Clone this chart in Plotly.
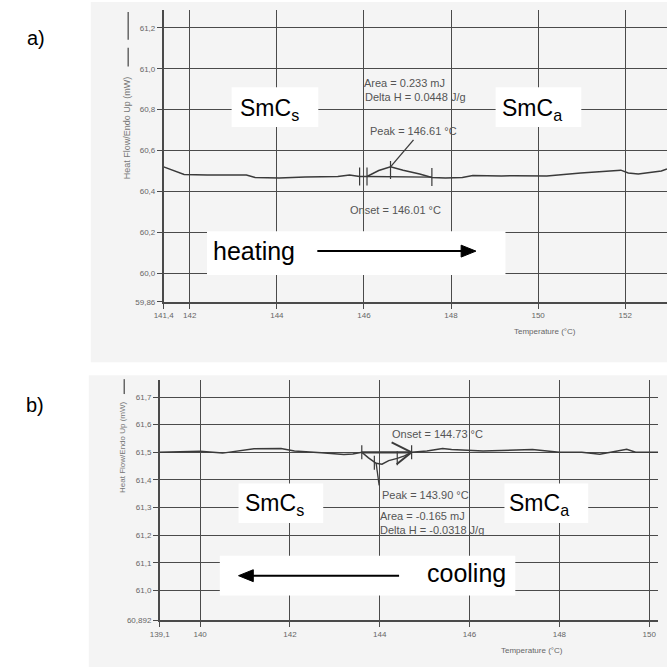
import plotly.graph_objects as go

# ---------------- data ----------------
# a) heating run
top_T = [141.4, 141.7, 141.87, 142.4, 143.3, 143.5, 144.05, 144.65, 145.4, 145.67, 145.9,
         146.07, 146.34, 146.61, 146.9, 147.28, 147.56, 147.87, 148.26, 148.5, 148.87,
         149.16, 149.45, 150.0, 150.2, 150.98, 151.9, 152.07, 152.3, 152.83, 152.96]
top_HF = [60.52, 60.497, 60.483, 60.48, 60.48, 60.468, 60.466, 60.47, 60.473, 60.48, 60.473,
          60.473, 60.502, 60.52, 60.503, 60.485, 60.468, 60.466, 60.468, 60.478, 60.475,
          60.475, 60.477, 60.475, 60.475, 60.49, 60.504, 60.49, 60.485, 60.5, 60.51]
top_xticks = [141.4, 142, 144, 146, 148, 150, 152]
top_xlabels = ["141,4", "142", "144", "146", "148", "150", "152"]
top_yticks = [59.86, 60.0, 60.2, 60.4, 60.6, 60.8, 61.0, 61.2]
top_ylabels = ["59,86", "60,0", "60,2", "60,4", "60,6", "60,8", "61,0", "61,2"]
top_marks_T = [145.9, 146.07, 146.61, 147.56]
top_marks_HF = [60.473, 60.473, 60.505, 60.47]
top_base_T = [146.07, 147.56]
top_base_HF = [60.473, 60.47]
top_peak = (146.61, 60.52)

# b) cooling run
bot_T = [139.1, 140.0, 140.5, 141.2, 141.8, 142.1, 142.7, 143.2, 143.4, 143.6, 143.75,
         143.92, 144.05, 144.2, 144.39, 144.55, 144.71, 145.05, 145.4, 145.6, 146.3,
         147.0, 147.4, 148.0, 148.5, 148.9, 149.5, 149.7, 150.2]
bot_HF = [61.50, 61.504, 61.497, 61.513, 61.514, 61.505, 61.498, 61.492, 61.494, 61.50, 61.48,
          61.46, 61.457, 61.47, 61.478, 61.487, 61.50, 61.505, 61.514, 61.51, 61.505,
          61.507, 61.51, 61.50, 61.50, 61.493, 61.511, 61.50, 61.50]
bot_xticks = [139.1, 140, 142, 144, 146, 148, 150]
bot_xlabels = ["139,1", "140", "142", "144", "146", "148", "150"]
bot_yticks = [60.892, 61.0, 61.1, 61.2, 61.3, 61.4, 61.5, 61.6, 61.7]
bot_ylabels = ["60,892", "61,0", "61,1", "61,2", "61,3", "61,4", "61,5", "61,6", "61,7"]
bot_marks_T = [143.6, 143.88, 144.39, 144.71]
bot_marks_HF = [61.50, 61.462, 61.478, 61.50]
bot_base_T = [143.6, 144.71]
bot_base_HF = [61.50, 61.50]
bot_peak = (143.92, 61.46)

# ---------------- layout helpers (pixel -> paper) ----------------
W, H = 667, 672
def px(x):
    return x / W
def py(y):
    return 1 - y / H

FONT = "Liberation Sans, Arial, sans-serif"
INK = "#3a3a3a"
GRID = "#4a4a4a"
TXT = "#555555"

fig = go.Figure()
fig.add_trace(go.Scatter(x=top_T, y=top_HF, mode="lines", xaxis="x", yaxis="y",
                         line=dict(color=INK, width=1.5), hoverinfo="skip", showlegend=False))
fig.add_trace(go.Scatter(x=bot_T, y=bot_HF, mode="lines", xaxis="x2", yaxis="y2",
                         line=dict(color=INK, width=1.5), hoverinfo="skip", showlegend=False))

axis_common = dict(showgrid=True, gridcolor=GRID, gridwidth=1, showline=True, linecolor=GRID,
                   zeroline=False, ticks="outside", ticklen=5, tickcolor=GRID,
                   tickfont=dict(family=FONT, size=8, color="#666"), fixedrange=True)

fig.update_layout(
    width=W, height=H, margin=dict(l=0, r=0, t=0, b=0),
    paper_bgcolor="white", plot_bgcolor="rgba(0,0,0,0)", showlegend=False,
    xaxis=dict(domain=[px(156), 1.0], range=[141.4, 152.96], anchor="y",
               tickvals=top_xticks, ticktext=top_xlabels, linewidth=2, **axis_common),
    yaxis=dict(domain=[py(304), py(10)], range=[59.86, 61.288], anchor="x",
               tickvals=top_yticks, ticktext=top_ylabels, linewidth=1.5, **axis_common),
    xaxis2=dict(domain=[px(152), px(658)], range=[139.1, 150.2], anchor="y2",
                tickvals=bot_xticks, ticktext=bot_xlabels, linewidth=2, **axis_common),
    yaxis2=dict(domain=[py(625), py(383)], range=[60.892, 61.761], anchor="x2",
                tickvals=bot_yticks, ticktext=bot_ylabels, linewidth=1.5, **axis_common),
)

shapes = []
# scanned-paper backgrounds
shapes.append(dict(type="rect", xref="paper", yref="paper", x0=px(82), x1=1, y0=py(365), y1=py(2),
                   fillcolor="#f4f4f4", line=dict(width=0), layer="below"))
shapes.append(dict(type="rect", xref="paper", yref="paper", x0=px(80), x1=1, y0=py(672), y1=py(378),
                   fillcolor="#f4f4f4", line=dict(width=0), layer="below"))

# integration baselines
shapes.append(dict(type="line", xref="x", yref="y", x0=top_base_T[0], x1=top_base_T[1],
                   y0=top_base_HF[0], y1=top_base_HF[1], line=dict(color=INK, width=1.3)))
shapes.append(dict(type="line", xref="x2", yref="y2", x0=bot_base_T[0], x1=bot_base_T[1],
                   y0=bot_base_HF[0], y1=bot_base_HF[1], line=dict(color=INK, width=2.2)))
# small vertical marker ticks
for t, v in zip(top_marks_T, top_marks_HF):
    shapes.append(dict(type="line", xref="x", yref="y", x0=t, x1=t, ysizemode="pixel",
                       yanchor=v, y0=-9, y1=9, line=dict(color=INK, width=1.2)))
for t, v in zip(bot_marks_T, bot_marks_HF):
    shapes.append(dict(type="line", xref="x2", yref="y2", x0=t, x1=t, ysizemode="pixel",
                       yanchor=v, y0=-7, y1=7, line=dict(color=INK, width=1.2)))
# open ">" head on the cooling onset baseline
for dx, dy in [(-20, 10), (-15, -12)]:
    shapes.append(dict(type="line", xref="x2", yref="y2", xsizemode="pixel", ysizemode="pixel",
                       xanchor=bot_base_T[1], yanchor=bot_base_HF[1], x0=dx, y0=dy, x1=0, y1=0,
                       line=dict(color=INK, width=2)))
# peak pointer strokes
shapes.append(dict(type="line", xref="x", yref="y", xsizemode="pixel", ysizemode="pixel",
                   xanchor=top_peak[0], yanchor=top_peak[1], x0=0, y0=0, x1=23, y1=27,
                   line=dict(color=INK, width=1.3)))
shapes.append(dict(type="line", xref="x2", yref="y2", xsizemode="pixel", ysizemode="pixel",
                   xanchor=bot_peak[0], yanchor=bot_peak[1], x0=0, y0=0, x1=3, y1=-22,
                   line=dict(color=INK, width=1.3)))

# white label boxes
def box(x0, x1, y0, y1):
    shapes.append(dict(type="rect", xref="paper", yref="paper", x0=px(x0), x1=px(x1),
                       y0=py(y1), y1=py(y0), fillcolor="white", line=dict(width=0), layer="above"))
box(225, 313, 88, 128)
box(493, 580, 88, 128)
box(200, 503, 233, 277)
box(232, 318, 487, 527)
box(502, 587, 487, 527)
box(213, 513, 560, 600)

# heating / cooling arrows (line + filled head)
def hline(x0, x1, y):
    shapes.append(dict(type="line", xref="paper", yref="paper", x0=px(x0), x1=px(x1),
                       y0=py(y), y1=py(y), line=dict(color="black", width=2), layer="above"))
def head(xtip, y, direction):
    xb = xtip - 15 * direction
    path = "M {} {} L {} {} L {} {} Z".format(px(xtip), py(y), px(xb), py(y - 6), px(xb), py(y + 6))
    shapes.append(dict(type="path", xref="paper", yref="paper", path=path,
                       fillcolor="black", line=dict(color="black", width=1), layer="above"))
hline(312, 462, 253)
head(473, 253, 1)
hline(243, 395, 580)
head(232, 580, -1)

# y-title legend strokes
for x, y0, y1 in [(120, 12, 40), (120, 48, 67), (116, 382, 397)]:
    shapes.append(dict(type="line", xref="paper", yref="paper", x0=px(x), x1=px(x),
                       y0=py(y1), y1=py(y0), line=dict(color="#666", width=1.5)))
fig.update_layout(shapes=shapes)

ann = []
def ptext(text, x, y, size, color="black", xanchor="center", angle=0):
    ann.append(dict(text=text, x=px(x), y=py(y), xref="paper", yref="paper", showarrow=False,
                    xanchor=xanchor, yanchor="middle", textangle=angle,
                    font=dict(family=FONT, size=size, color=color)))

ptext("a)", 26, 38, 20)
ptext("b)", 25, 408, 20)
ptext("SmC<sub>s</sub>", 263, 110, 23)
ptext("SmC<sub>a</sub>", 530, 110, 23)
ptext("SmC<sub>s</sub>", 269, 508, 23)
ptext("SmC<sub>a</sub>", 537, 508, 23)
ptext("heating", 248, 253, 25)
ptext("cooling", 463, 577, 25)
ptext("Heat Flow/Endo Up (mW)", 119, 129, 9, "#777", angle=-90)
ptext("Heat Flow/Endo Up (mW)", 114, 451, 8, "#777", angle=-90)
ptext("Temperature (°C)", 543, 334, 8, "#666")
ptext("Temperature (°C)", 530, 655, 8, "#666")

# DSC annotations
ptext("Area = 0.233 mJ", 357, 84, 11, TXT, xanchor="left")
ptext("Delta H = 0.0448 J/g", 358, 98, 11, TXT, xanchor="left")
ptext("Peak = 146.61 °C", 410, 132, 11, TXT)
ptext("Onset = 146.01 °C", 391, 212, 11, TXT)
ptext("Onset = 144.73 °C", 434, 437, 11, TXT)
ptext("Peak = 143.90 °C", 422, 499, 11, TXT)
ptext("Area = -0.165 mJ", 374, 520, 11, TXT, xanchor="left")
ptext("Delta H = -0.0318 J/g", 374, 534, 11, TXT, xanchor="left")
fig.update_layout(annotations=ann)

fig.write_html("out.html")
